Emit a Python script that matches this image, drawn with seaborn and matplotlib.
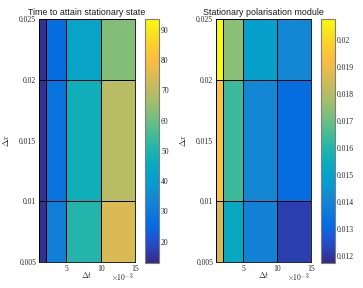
import matplotlib
matplotlib.use("Agg")
import matplotlib.pyplot as plt
import seaborn as sns
from matplotlib.colors import LinearSegmentedColormap, Normalize
from matplotlib.ticker import FuncFormatter

# Cell edges: time step (in units of 1e-3) and space step
dt_edges = [1, 2, 5, 10, 15]
dx_edges = [0.005, 0.01, 0.02, 0.025]

# Rows go from bottom (dx 0.005-0.01) to top (dx 0.02-0.025)
t_stationary = [
    [14.5, 31.5, 51.0, 74.5],
    [14.5, 27.5, 47.5, 69.5],
    [14.5, 26.0, 43.0, 62.5],
]
p_stationary = [
    [0.0186, 0.0153, 0.0139, 0.0122],
    [0.0195, 0.0164, 0.0141, 0.0132],
    [0.0207, 0.0174, 0.0149, 0.0141],
]
t_clim = (13, 93.5)
p_clim = (0.01175, 0.02077)
t_cticks = [20, 30, 40, 50, 60, 70, 80, 90]
p_cticks = [0.012, 0.013, 0.014, 0.015, 0.016, 0.017, 0.018, 0.019, 0.020]
x_ticks = [5, 10, 15]
y_ticks = [0.005, 0.01, 0.015, 0.02, 0.025]
titles = ["Time to attain stationary state", "Stationary polarisation module"]

# MATLAB parula, sampled
parula_pts = [
    (0.000, (0.208, 0.166, 0.529)),
    (0.095, (0.125, 0.324, 0.830)),
    (0.159, (0.017, 0.427, 0.879)),
    (0.254, (0.079, 0.520, 0.831)),
    (0.333, (0.027, 0.614, 0.814)),
    (0.413, (0.038, 0.674, 0.744)),
    (0.492, (0.180, 0.718, 0.642)),
    (0.571, (0.395, 0.746, 0.524)),
    (0.667, (0.647, 0.746, 0.419)),
    (0.762, (0.851, 0.730, 0.336)),
    (0.841, (0.994, 0.745, 0.240)),
    (0.905, (0.979, 0.827, 0.163)),
    (1.000, (0.976, 0.983, 0.054)),
]
parula = LinearSegmentedColormap.from_list("parula", parula_pts)

sns.set_style("white")
plt.rcParams["mathtext.fontset"] = "cm"
plt.rcParams["font.family"] = ["Liberation Serif", "DejaVu Serif"]

fmt = FuncFormatter(lambda v, _: f"{v:g}")

fig = plt.figure(figsize=(3.63, 2.88), dpi=100)
W, H = 363, 288


def px_axes(x0, x1, y0, y1):
    return fig.add_axes([x0 / W, 1 - y1 / H, (x1 - x0) / W, (y1 - y0) / H])


panels = [
    (t_stationary, t_clim, t_cticks, (39, 135), (145, 159)),
    (p_stationary, p_clim, p_cticks, (216, 311), (321, 335)),
]

for (vals, clim, cticks, ax_x, cb_x), title in zip(panels, titles):
    ax = px_axes(ax_x[0], ax_x[1], 19, 262)
    mesh = ax.pcolormesh(dt_edges, dx_edges, vals, cmap=parula,
                         norm=Normalize(*clim), edgecolors="black",
                         linewidth=0.5)
    ax.set_xlim(dt_edges[0], dt_edges[-1])
    ax.set_ylim(dx_edges[0], dx_edges[-1])
    ax.set_xticks(x_ticks)
    ax.set_yticks(y_ticks)
    ax.yaxis.set_major_formatter(fmt)
    ax.tick_params(direction="in", length=2, width=0.5, labelsize=5.5,
                   pad=2, colors="#262626")
    for s in ax.spines.values():
        s.set_color("black")
        s.set_linewidth(0.6)
    ax.set_title(title, fontsize=6.4, family="Liberation Sans", pad=3,
                 color="#1a1a1a")
    ax.set_xlabel(r"$\Delta t$", fontsize=6, labelpad=-2)
    ax.set_ylabel(r"$\Delta x$", fontsize=6, labelpad=6)
    ax.text(0.98, -0.065, r"$\times 10^{-3}$", transform=ax.transAxes,
            ha="right", va="center", fontsize=5.5, color="#262626")

    cax = px_axes(cb_x[0], cb_x[1], 19, 263)
    cb = fig.colorbar(mesh, cax=cax)
    cb.set_ticks(cticks)
    cb.ax.yaxis.set_major_formatter(fmt)
    cb.ax.tick_params(direction="in", length=2, width=0.5, labelsize=5.5,
                      pad=1.5, colors="#262626")
    cb.outline.set_edgecolor("#7f7f7f")
    cb.outline.set_linewidth(0.8)

fig.savefig("out.png", dpi=100)
